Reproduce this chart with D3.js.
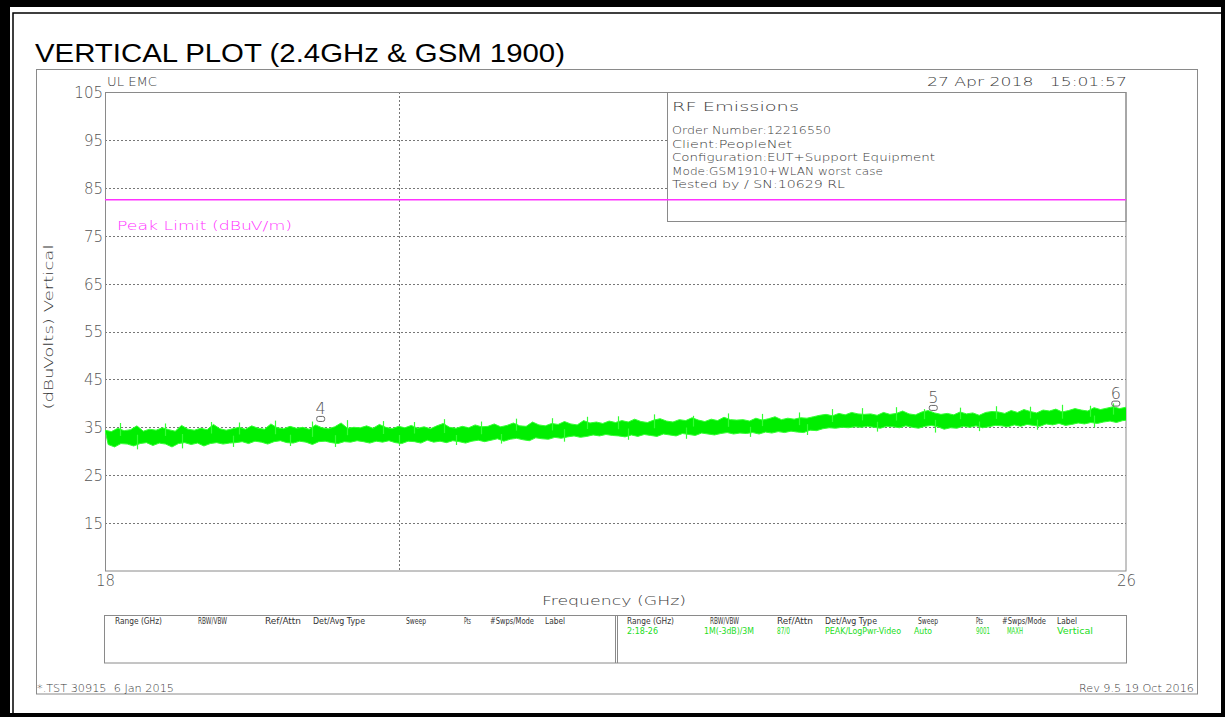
<!DOCTYPE html>
<html><head><meta charset="utf-8">
<script src="https://cdn.jsdelivr.net/npm/d3@7"></script>
<style>body{margin:0;background:#fff}svg{display:block}text{font-family:"DejaVu Sans",sans-serif;font-weight:200}</style>
</head><body><div id="c"></div>
<script>
// ---------- data ----------
const xDomain = [18, 26];
const yDomain = [5, 105];
const yTickValues = [15, 25, 35, 45, 55, 65, 75, 85, 95, 105];
const xTickValues = [18, 26];
const verticalGridGHz = [20.3];
const peakLimit = 82.5;
const freqStart = 18, freqStep = 0.05;
// upper edge of the dense trace band (dBuV), read every 0.05 GHz from 18 to 26
const traceHigh = [
34.4,34.1,34.8,34.3,34.5,35.3,34.2,34.6,34.4,34.9,34.5,34.2,35.4,34.6,34.4,34.8,34.5,35.6,34.7,34.4,
34.7,35.0,34.6,35.3,34.8,34.6,35.7,34.9,34.7,35.2,34.8,35.0,34.6,35.5,34.9,34.7,35.1,35.9,34.8,35.0,
34.9,35.3,34.8,35.6,35.0,34.7,35.2,34.9,35.4,34.8,35.1,34.7,35.3,35.8,35.0,34.8,35.2,34.9,35.5,35.1,
35.2,35.7,35.1,35.4,35.9,35.3,35.2,36.1,35.5,35.3,35.8,35.6,36.2,35.7,35.5,36.4,35.9,36.1,35.8,36.3,
36.0,36.4,36.1,36.7,36.2,36.0,36.5,36.8,36.3,36.1,36.6,36.4,37.0,36.5,36.2,36.7,36.4,37.1,36.6,36.5,
36.6,36.3,36.9,36.5,36.8,37.2,36.6,36.9,36.7,37.0,36.9,37.2,37.5,37.7,37.4,37.9,37.6,38.1,37.8,37.7,
37.8,37.5,38.1,37.7,37.9,38.4,37.8,37.6,38.2,38.5,38.0,37.7,37.9,37.6,38.2,37.8,38.0,37.5,38.1,38.3,
38.2,37.9,38.5,38.1,38.7,38.3,38.0,38.6,38.4,38.8,38.2,38.5,38.9,38.6,38.4,39.1,38.7,39.0,39.3,38.9,
39.2];
// lower edge of the dense trace band (dBuV), read half a step later
const traceLow = [
31.4,30.9,31.6,31.5,31.1,31.6,31.8,31.2,31.7,31.5,30.9,31.6,31.8,31.4,31.7,31.1,31.6,31.8,31.5,31.7,
31.8,32.0,31.6,32.1,31.9,31.5,32.0,32.2,31.8,31.7,32.1,31.9,31.4,32.0,32.1,31.8,31.6,32.0,31.9,32.2,
32.0,31.7,32.1,31.9,32.2,31.8,31.6,32.1,32.0,31.7,32.3,31.9,32.1,31.8,32.2,32.0,31.7,32.1,32.3,32.0,
32.3,32.6,32.1,32.5,32.7,32.4,32.2,32.8,32.6,32.5,32.9,32.7,33.0,33.2,32.9,33.1,33.4,33.2,33.5,33.3,
33.2,33.0,33.4,33.1,33.5,33.3,33.1,33.6,33.4,33.2,33.7,33.5,33.3,33.8,33.6,33.4,33.7,33.9,33.6,33.8,
33.7,33.9,33.6,34.0,33.8,34.1,33.9,34.2,34.0,33.9,34.4,34.3,34.7,34.9,34.8,35.0,34.9,35.1,35.0,35.2,
35.0,34.8,35.2,35.1,34.9,35.3,35.0,34.8,35.2,35.4,35.1,34.6,34.9,34.8,35.2,35.0,35.3,34.9,35.1,35.4,
35.3,35.1,35.5,35.2,35.6,35.4,35.2,35.7,35.5,35.8,35.4,35.6,35.9,35.7,36.0,35.8,36.1,36.3,36.0,36.4,
36.5];
// isolated spikes beyond the band (GHz, dBuV)
const spikeFreq = [18.12, 18.25, 18.47, 18.60, 18.83, 19.00, 19.05, 19.33, 19.45, 19.62, 19.80, 19.90,
  20.18, 20.30, 20.42, 20.66, 20.75, 20.95, 21.10, 21.22, 21.50, 21.60, 21.78, 22.02, 22.10, 22.30,
  22.55, 22.61, 22.88, 23.05, 23.15, 23.44, 23.50, 23.70, 23.93, 24.05, 24.20, 24.42, 24.50, 24.70,
  24.85, 24.98, 25.25, 25.30, 25.50, 25.72, 25.75, 25.90];
const spikeLevel = [35.9, 30.4, 35.8, 30.6, 36.1, 30.9, 36.0, 36.4, 31.1, 36.2, 30.9, 36.5,
  36.3, 31.2, 36.1, 36.7, 31.3, 36.2, 31.6, 36.8, 36.9, 32.0, 37.2, 37.3, 32.4, 37.7,
  32.6, 37.4, 37.9, 33.0, 37.8, 38.1, 33.4, 38.8, 39.0, 34.1, 39.2, 38.8, 33.9, 39.1,
  34.2, 39.4, 39.3, 34.5, 39.7, 39.5, 35.0, 40.0];
const markerIds = ["4", "5", "6"];
const markerFreq = [19.69, 24.49, 25.92];
const markerLevel = [35.6, 37.9, 38.8];
const infoLines = ["Order Number:12216550", "Client:PeopleNet", "Configuration:EUT+Support Equipment",
  "Mode:GSM1910+WLAN worst case", "Tested by / SN:10629 RL"];
const tableHeaders = ["Range (GHz)", "RBW/VBW", "Ref/Attn", "Det/Avg Type", "Sweep", "Pts", "#Swps/Mode", "Label"];
const tableValues = ["2:18-26", "1M(-3dB)/3M", "87/0", "PEAK/LogPwr-Video", "Auto", "9001", "MAXH", "Vertical"];

// ---------- drawing ----------
const W = 1225, H = 717;
const svg = d3.select("#c").append("svg").attr("width", W).attr("height", H);
const TXT = "#3a3a3a", LINE = "#8a8a8a", GREEN = "#00ee00", MAG = "#ff33ff";

function t(str, x, y, size, len, opts = {}) {
  const el = svg.append("text").attr("x", x).attr("y", y)
    .attr("font-size", size).attr("fill", opts.fill || TXT)
    .attr("text-anchor", opts.anchor || "start")
    .style("white-space", "pre")
    .text(str);
  if (opts.family) el.style("font-family", opts.family);
  if (opts.weight) el.style("font-weight", opts.weight);
  if (len) el.attr("textLength", len).attr("lengthAdjust", opts.adjust || "spacingAndGlyphs");
  if (opts.transform) el.attr("transform", opts.transform);
  return el;
}

// outer border
svg.append("rect").attr("width", W).attr("height", H).attr("fill", "#000");
svg.append("rect").attr("x", 10).attr("y", 7).attr("width", 1211).attr("height", 706).attr("fill", "#fff");
svg.append("rect").attr("x", 13).attr("y", 13).attr("width", 1220).attr("height", 710)
  .attr("fill", "none").attr("stroke", "#000").attr("stroke-width", 1.5);

// title
t("VERTICAL PLOT (2.4GHz & GSM 1900)", 35, 62, 25, 530,
  {fill: "#000", family: "'Liberation Sans', Arial, sans-serif", weight: "normal"});

// chart frame
svg.append("rect").attr("x", 36.5).attr("y", 69.5).attr("width", 1161).attr("height", 624.5)
  .attr("fill", "none").attr("stroke", LINE);

const x = d3.scaleLinear().domain(xDomain).range([105, 1126]);
const y = d3.scaleLinear().domain(yDomain).range([571, 92]);

// grid
const grid = svg.append("g").attr("stroke", "#777").attr("stroke-dasharray", "2,2").attr("stroke-width", 1);
grid.selectAll("line.h").data(yTickValues.filter(v => v < 105)).join("line")
  .attr("x1", x(18)).attr("x2", x(26)).attr("y1", d => Math.round(y(d)) + 0.5).attr("y2", d => Math.round(y(d)) + 0.5);
grid.selectAll("line.v").data(verticalGridGHz).join("line")
  .attr("x1", d => Math.round(x(d)) + 0.5).attr("x2", d => Math.round(x(d)) + 0.5).attr("y1", y(105)).attr("y2", y(5));

// info box
svg.append("rect").attr("x", 667.5).attr("y", 92.5).attr("width", 458.5).attr("height", 129)
  .attr("fill", "#fff").attr("stroke", LINE);
t("RF Emissions", 672, 111, 13, 127);
const infoY = [134, 147.5, 161, 174.5, 188];
const infoLen = [159, 120, 263, 211, 173];
infoLines.forEach((s, i) => t(s, 672, infoY[i], 10.5, infoLen[i]));

// plot border
svg.append("rect").attr("x", 105.5).attr("y", 92.5).attr("width", 1020.5).attr("height", 478.5)
  .attr("fill", "none").attr("stroke", LINE);

// limit line
svg.append("line").attr("x1", x(18)).attr("x2", x(26)).attr("y1", y(peakLimit)).attr("y2", y(peakLimit))
  .attr("stroke", MAG).attr("stroke-width", 1.4);
t("Peak Limit (dBuV/m)", 117, 230, 13, 175, {fill: MAG});

// trace band
const band = traceHigh.map((h, i) => ({i, hi: h, lo: traceLow[i]}));
const plotClip = svg.append("clipPath").attr("id", "pc").append("rect")
  .attr("x", 105).attr("y", 92).attr("width", 1021).attr("height", 479);
const tr = svg.append("g").attr("clip-path", "url(#pc)");
tr.append("path").datum(band)
  .attr("d", d3.area()
    .x1(d => x(freqStart + d.i * freqStep)).y1(d => y(d.hi))
    .x0(d => x(freqStart + (d.i + 0.5) * freqStep)).y0(d => y(d.lo)))
  .attr("fill", GREEN).attr("stroke", "#33ff33").attr("stroke-width", 1);
// spikes: from the middle of the band at that frequency out to the spike level
tr.selectAll("line.spike").data(spikeFreq).join("line")
  .attr("x1", d => Math.round(x(d)) + 0.5).attr("x2", d => Math.round(x(d)) + 0.5)
  .attr("y1", (d, k) => {
    const j = Math.min(traceHigh.length - 1, Math.round((d - freqStart) / freqStep));
    return y((traceHigh[j] + traceLow[j]) / 2);
  })
  .attr("y2", (d, k) => y(spikeLevel[k]))
  .attr("stroke", "#33ff33").attr("stroke-width", 1.2);

// markers
markerFreq.forEach((f, i) => {
  const mx = x(f), my = y(markerLevel[i]);
  svg.append("rect").attr("x", mx - 4).attr("y", my - 8).attr("width", 8).attr("height", 5)
    .attr("rx", 2).attr("fill", "none").attr("stroke", "#666").attr("stroke-width", 1);
  t(markerIds[i], mx, my - 10, 16, null, {anchor: "middle", fill: "#555"});
});

// axes
const yAxis = svg.append("g").attr("transform", "translate(105,0)")
  .call(d3.axisLeft(y).tickValues(yTickValues).tickSize(0).tickPadding(2));
yAxis.select(".domain").remove();
yAxis.selectAll("text").attr("font-size", 15).attr("fill", "#555").attr("dy", "0.36em")
  .style("font-family", "'DejaVu Sans',sans-serif").style("font-weight", 200);
const xAxis = svg.append("g").attr("transform", "translate(0,571)")
  .call(d3.axisBottom(x).tickValues(xTickValues).tickSize(0).tickPadding(4));
xAxis.select(".domain").remove();
xAxis.selectAll("text").attr("font-size", 15).attr("fill", "#555")
  .style("font-family", "'DejaVu Sans',sans-serif").style("font-weight", 200);

t("UL EMC", 107, 86, 12, 50);
t("27 Apr 2018   15:01:57", 927, 86, 12, 200);
t("Frequency (GHz)", 614, 605, 13, 144, {anchor: "middle"});
t("(dBuVolts) Vertical", 0, 0, 12, 165, {anchor: "middle", transform: "translate(53,327) rotate(-90)"});

// table
svg.append("rect").attr("x", 104.5).attr("y", 615.5).attr("width", 1022).attr("height", 47.5)
  .attr("fill", "none").attr("stroke", LINE);
[615.5, 617.5].forEach(v => svg.append("line").attr("x1", v).attr("x2", v).attr("y1", 615.5).attr("y2", 663)
  .attr("stroke", LINE));
const hdrX = [627, 710, 777, 825, 918, 976, 1002, 1057];
const hdrL = [47, 29, 36, 52, 20, 7, 44, 20];
const valX = [627, 704, 777, 825, 914, 976, 1007, 1057];
const valL = [31, 50, 13, 76, 18, 14, 16, 36];
[-512, 0].forEach(off => {
  tableHeaders.forEach((s, i) => t(s, hdrX[i] + off, 624, 8.5, hdrL[i], {fill: "#333", weight: "normal"}));
});
tableValues.forEach((s, i) => t(s, valX[i], 634, 8.5, valL[i], {fill: "#22dd22", weight: "normal"}));

// footer
t("*.TST 30915  6 Jan 2015", 37, 692, 10, 137);
t("Rev 9.5 19 Oct 2016", 1079, 692, 10, 115);
</script></body></html>
